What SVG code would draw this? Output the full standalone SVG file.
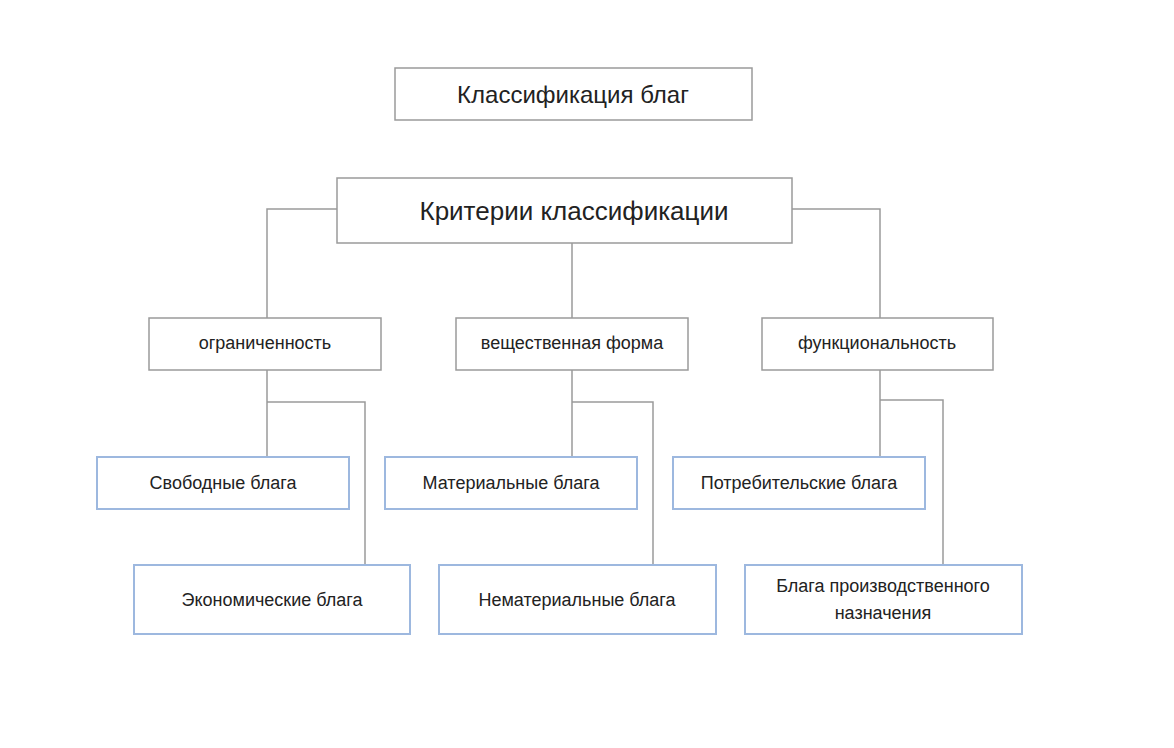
<svg xmlns="http://www.w3.org/2000/svg" width="1174" height="748" viewBox="0 0 1174 748">
<style>
.g{fill:#fff;stroke:#9a9a9a;stroke-width:1.5}
.b{fill:#fff;stroke:#9db8df;stroke-width:2}
text{font-family:"Liberation Sans",Arial,sans-serif;fill:#222;text-anchor:middle;dominant-baseline:central}
.s{font-size:18px}
.c path{fill:none;stroke:#9a9a9a;stroke-width:1.5}
</style>
<rect width="1174" height="748" fill="#fff"/>
<g class="c">
<path d="M337 209H267V318M792 209H880V318M572 243V318"/>
<path d="M267 370V457M267 402H365V565"/>
<path d="M572 370V457M572 402H653V565"/>
<path d="M880 370V457M880 400H943V565"/>
</g>
<g id="title"><rect class="g" x="395" y="68" width="357" height="52"/><text x="573" y="94" font-size="24">Классификация благ</text></g>
<g id="criteria"><rect class="g" x="337" y="178" width="455" height="65"/><text x="574" y="211" font-size="26">Критерии классификации</text></g>
<g id="n1"><rect class="g" x="149" y="318" width="232" height="52"/><text class="s" x="265" y="343">ограниченность</text></g>
<g id="n2"><rect class="g" x="456" y="318" width="232" height="52"/><text class="s" x="572" y="343">вещественная форма</text></g>
<g id="n3"><rect class="g" x="762" y="318" width="231" height="52"/><text class="s" x="877" y="343">функциональность</text></g>
<g id="l1"><rect class="b" x="97" y="457" width="252" height="52"/><text class="s" x="223" y="483">Свободные блага</text></g>
<g id="l2"><rect class="b" x="385" y="457" width="252" height="52"/><text class="s" x="511" y="483">Материальные блага</text></g>
<g id="l3"><rect class="b" x="673" y="457" width="252" height="52"/><text class="s" x="799" y="483">Потребительские блага</text></g>
<g id="l4"><rect class="b" x="134" y="565" width="276" height="69"/><text class="s" x="272" y="600">Экономические блага</text></g>
<g id="l5"><rect class="b" x="439" y="565" width="277" height="69"/><text class="s" x="577" y="600">Нематериальные блага</text></g>
<g id="l6"><rect class="b" x="745" y="565" width="277" height="69"/><text class="s" x="883" y="586">Блага производственного</text><text class="s" x="883" y="613">назначения</text></g>
</svg>
